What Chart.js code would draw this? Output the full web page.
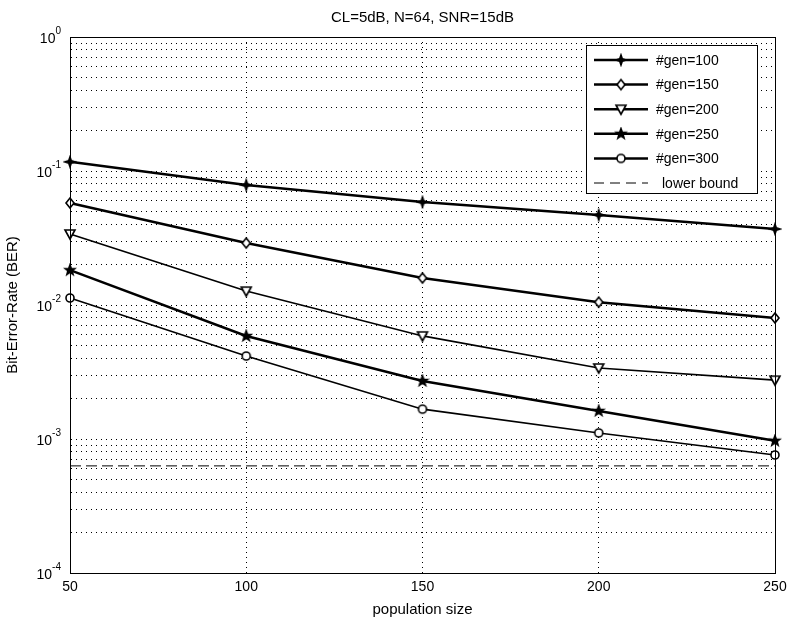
<!DOCTYPE html>
<html>
<head>
<meta charset="utf-8">
<title>BER vs population size</title>
<script src="https://cdn.jsdelivr.net/npm/chart.js@4/dist/chart.umd.min.js"></script>
<style>
  html, body { margin: 0; padding: 0; background: #fff; }
  #wrap { width: 790px; height: 623px; }
</style>
</head>
<body>
<div id="wrap"><canvas id="ber"></canvas></div>
<script>
// population sizes
var popSize = [50, 100, 150, 200, 250];

// BER for each number of generations
var gen100 = [0.117, 0.0786, 0.0587, 0.047, 0.0369];
var gen150 = [0.0577, 0.029, 0.0159, 0.0105, 0.0080];
var gen200 = [0.0339, 0.0127, 0.00588, 0.00339, 0.00275];
var gen250 = [0.0182, 0.00587, 0.00271, 0.00162, 0.00097];
var gen300 = [0.01128, 0.00416, 0.00167, 0.00111, 0.00076];
var lowerBound = [0.00063, 0.00063, 0.00063, 0.00063, 0.00063];

var seriesNames = ['#gen=100', '#gen=150', '#gen=200', '#gen=250', '#gen=300', 'lower bound'];
var decadeExps = [0, -1, -2, -3, -4];
var xTicks = [50, 100, 150, 200, 250];

var FONT = '"Liberation Sans", Arial, Helvetica, sans-serif';

// little canvases used as marker images
function marker(kind) {
  var c = document.createElement('canvas');
  c.width = 14; c.height = 14;
  var g = c.getContext('2d');
  g.translate(7, 7);
  g.lineWidth = 1.6;
  g.strokeStyle = '#000';
  g.fillStyle = '#000';
  g.beginPath();
  if (kind == 'star4') {
    for (var i = 0; i < 8; i++) {
      var r = i % 2 ? 1.8 : 5;
      var a = i * Math.PI / 4 - Math.PI / 2;
      g.lineTo(r * Math.cos(a), r * Math.sin(a));
    }
    g.closePath(); g.fill(); g.stroke();
  } else if (kind == 'diamond') {
    g.moveTo(0, -5); g.lineTo(4, 0); g.lineTo(0, 5); g.lineTo(-4, 0); g.closePath();
    g.fillStyle = '#fff'; g.fill(); g.stroke();
  } else if (kind == 'tridown') {
    g.moveTo(-5, -4); g.lineTo(5, -4); g.lineTo(0, 5); g.closePath();
    g.fillStyle = '#fff'; g.fill(); g.stroke();
  } else if (kind == 'penta') {
    for (var j = 0; j < 10; j++) {
      var rr = j % 2 ? 2.2 : 5.3;
      var b = j * Math.PI / 5 - Math.PI / 2;
      g.lineTo(rr * Math.cos(b), rr * Math.sin(b));
    }
    g.closePath(); g.fill(); g.stroke();
  } else if (kind == 'circle') {
    g.arc(0, 0, 4, 0, Math.PI * 2);
    g.fillStyle = '#fff'; g.fill(); g.stroke();
  }
  return c;
}

var markers = [marker('star4'), marker('diamond'), marker('tridown'), marker('penta'), marker('circle'), false];
var widths = [2.5, 2.5, 1.6, 2.5, 1.6, 1];
var allData = [gen100, gen150, gen200, gen250, gen300, lowerBound];

var datasets = [];
for (var i = 0; i < allData.length; i++) {
  datasets.push({
    label: seriesNames[i],
    data: allData[i],
    borderColor: '#000',
    backgroundColor: '#000',
    borderWidth: widths[i],
    borderDash: i == 5 ? [11, 5] : [],
    pointStyle: markers[i],
    pointRadius: i == 5 ? 0 : 5,
    tension: 0,
    clip: false
  });
}

// box, title, y tick labels and legend, matlab style
var matlabBits = {
  id: 'matlabBits',
  afterDraw: function (chart) {
    var ctx = chart.ctx, a = chart.chartArea;
    var ys = chart.scales.y;
    ctx.save();
    ctx.strokeStyle = '#000';
    ctx.lineWidth = 1;
    ctx.strokeRect(a.left + 0.5, a.top + 0.5, a.right - a.left, a.bottom - a.top);

    ctx.fillStyle = '#000';
    ctx.font = '15px ' + FONT;
    ctx.textAlign = 'center';
    ctx.textBaseline = 'middle';
    ctx.fillText('CL=5dB, N=64, SNR=15dB', (a.left + a.right) / 2, 18);

    // decade labels 10^n
    decadeExps.forEach(function (e) {
      var y = ys.getPixelForValue(Math.pow(10, e));
      ctx.font = '10px ' + FONT;
      ctx.textAlign = 'left';
      ctx.textBaseline = 'middle';
      var ex = String(e);
      var ew = ctx.measureText(ex).width;
      ctx.fillText(ex, a.left - 9 - ew, y - 6);
      ctx.font = '14px ' + FONT;
      ctx.textAlign = 'right';
      ctx.fillText('10', a.left - 9 - ew, y + 2);
    });

    // legend
    var lw = 171, lh = 148;
    var lx = a.right - 18 - lw, ly = a.top + 8;
    ctx.fillStyle = '#fff';
    ctx.fillRect(lx, ly, lw, lh);
    ctx.strokeRect(lx + 0.5, ly + 0.5, lw, lh);
    for (var i = 0; i < seriesNames.length; i++) {
      var ry = ly + 15 + i * 24.6;
      ctx.beginPath();
      ctx.lineWidth = i == 5 ? 1 : 2.5;
      ctx.setLineDash(i == 5 ? [10, 6] : []);
      ctx.moveTo(lx + 8, ry);
      ctx.lineTo(lx + 62, ry);
      ctx.stroke();
      ctx.setLineDash([]);
      if (markers[i]) ctx.drawImage(markers[i], lx + 35 - 7, ry - 7);
      ctx.fillStyle = '#000';
      ctx.font = '14px ' + FONT;
      ctx.textAlign = 'left';
      ctx.textBaseline = 'middle';
      ctx.fillText(seriesNames[i], lx + (i == 5 ? 76 : 70), ry + 1);
    }
    ctx.restore();
  }
};

new Chart(document.getElementById('ber'), {
  type: 'line',
  data: { datasets: datasets.map(function (d) {
    d.data = d.data.map(function (v, k) { return { x: popSize[k], y: v }; });
    return d;
  }) },
  plugins: [matlabBits],
  options: {
    responsive: true,
    maintainAspectRatio: false,
    animation: false,
    layout: { padding: { top: 37, right: 15, left: 0, bottom: 0 } },
    plugins: { legend: { display: false }, tooltip: { enabled: false } },
    scales: {
      x: {
        type: 'linear',
        min: 50, max: 250,
        afterBuildTicks: function (s) { s.ticks = xTicks.map(function (v) { return { value: v }; }); },
        afterFit: function (s) { s.height = 50; s.paddingLeft = 0; s.paddingRight = 0; },
        ticks: { color: '#000', font: { size: 14, family: FONT }, padding: 6 },
        grid: { color: '#000', lineWidth: 1, drawTicks: false },
        border: { color: '#000', dash: [1, 4] },
        title: { display: true, text: 'population size', color: '#000', font: { size: 15, family: FONT }, padding: { top: 0 } }
      },
      y: {
        type: 'logarithmic',
        min: 0.0001, max: 1,
        afterBuildTicks: function (s) {
          var t = [];
          for (var e = -4; e < 0; e++) {
            for (var k = 1; k < 10; k++) t.push({ value: k * Math.pow(10, e) });
          }
          t.push({ value: 1 });
          s.ticks = t;
        },
        afterFit: function (s) { s.width = 70; },
        ticks: { display: false },
        grid: { color: '#000', lineWidth: 1, drawTicks: false },
        border: { color: '#000', dash: [1, 4] },
        title: { display: true, text: 'Bit-Error-Rate (BER)', color: '#000', font: { size: 15, family: FONT }, padding: { top: 4 } }
      }
    }
  }
});
</script>
</body>
</html>
